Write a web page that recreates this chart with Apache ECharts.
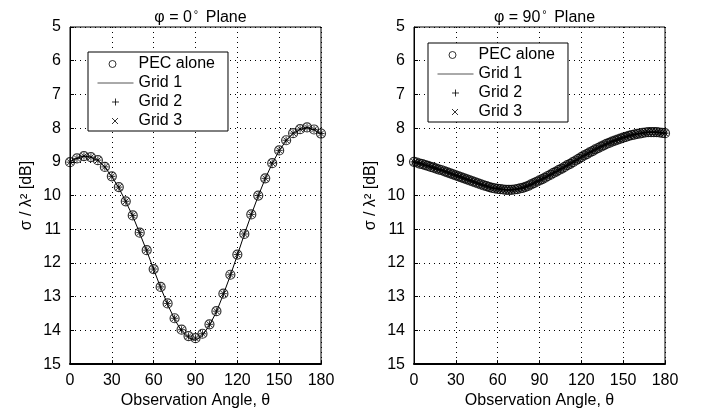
<!DOCTYPE html>
<html>
<head>
<meta charset="utf-8">
<script src="https://cdn.jsdelivr.net/npm/echarts@6/dist/echarts.min.js"></script>
<style>
html, body { margin: 0; padding: 0; background: #fff; }
#chartDiv { width: 702px; height: 414px; }
</style>
</head>
<body>
<div id="chartDiv"></div>
<script>
var FONT = 'Arial, "Liberation Sans", sans-serif';

// phi = 0 plane, every 5 degrees
var anglesPhi0 = [0,5,10,15,20,25,30,35,40,45,50,55,60,65,70,75,80,85,90,95,100,105,110,115,120,125,130,135,140,145,150,155,160,165,170,175,180];
var pecPhi0   = [9.01,8.90,8.83,8.86,8.95,9.15,9.43,9.75,10.17,10.59,11.10,11.62,12.18,12.71,13.20,13.64,13.98,14.17,14.23,14.10,13.82,13.43,12.91,12.35,11.75,11.14,10.56,10.00,9.49,9.04,8.66,8.36,8.15,8.03,7.98,8.04,8.16];
var grid1Phi0 = [9.00,8.89,8.83,8.86,8.96,9.16,9.44,9.77,10.18,10.61,11.12,11.64,12.19,12.73,13.23,13.67,14.02,14.22,14.30,14.15,13.85,13.45,12.93,12.37,11.77,11.15,10.57,10.01,9.50,9.05,8.67,8.37,8.16,8.04,7.99,8.05,8.17];
var grid2Phi0 = [9.01,8.90,8.83,8.86,8.95,9.15,9.43,9.75,10.17,10.59,11.10,11.62,12.18,12.71,13.20,13.64,13.98,14.17,14.23,14.10,13.82,13.43,12.91,12.35,11.75,11.14,10.56,10.00,9.49,9.04,8.66,8.36,8.15,8.03,7.98,8.04,8.16];
var grid3Phi0 = [9.01,8.90,8.83,8.86,8.95,9.15,9.43,9.75,10.17,10.59,11.10,11.62,12.18,12.71,13.20,13.64,13.98,14.17,14.23,14.10,13.82,13.43,12.91,12.35,11.75,11.14,10.56,10.00,9.49,9.04,8.66,8.36,8.15,8.03,7.98,8.04,8.16];

// phi = 90 plane, every 2 degrees
var anglesPhi90 = [0,2,4,6,8,10,12,14,16,18,20,22,24,26,28,30,32,34,36,38,40,42,44,46,48,50,52,54,56,58,60,62,64,66,68,70,72,74,76,78,80,82,84,86,88,90,92,94,96,98,100,102,104,106,108,110,112,114,116,118,120,122,124,126,128,130,132,134,136,138,140,142,144,146,148,150,152,154,156,158,160,162,164,166,168,170,172,174,176,178,180];
var pecPhi90 = [9.00,9.02,9.05,9.07,9.10,9.12,9.15,9.17,9.20,9.23,9.25,9.28,9.31,9.34,9.37,9.40,9.43,9.46,9.49,9.52,9.55,9.58,9.61,9.64,9.67,9.70,9.72,9.75,9.77,9.79,9.80,9.81,9.82,9.83,9.83,9.83,9.82,9.81,9.79,9.77,9.74,9.71,9.67,9.63,9.59,9.55,9.51,9.47,9.42,9.38,9.33,9.29,9.24,9.20,9.15,9.10,9.06,9.01,8.96,8.91,8.86,8.81,8.77,8.72,8.68,8.63,8.59,8.55,8.51,8.47,8.44,8.40,8.37,8.34,8.31,8.28,8.26,8.23,8.21,8.19,8.17,8.16,8.14,8.13,8.12,8.12,8.12,8.12,8.13,8.14,8.15];
var grid1Phi90 = pecPhi90;
var grid2Phi90 = pecPhi90;
var grid3Phi90 = pecPhi90;

var seriesNames = ['PEC alone', 'Grid 1', 'Grid 2', 'Grid 3'];
var titles = ['\u03c6 = 0{deg|\u00b0} Plane', '\u03c6 = 90{deg|\u00b0} Plane'];
var xTicks = [0, 30, 60, 90, 120, 150, 180];

function pairs(xs, ys) {
	var out = [];
	for (var i = 0; i < xs.length; i++) out.push([xs[i], ys[i]]);
	return out;
}

var plusSym  = 'path://M0,-3.5L0,3.5M-3.5,0L3.5,0';
var crossSym = 'path://M-3,-3L3,3M-3,3L3,-3';
// legend icons padded to 36x10 so that every row lines up
var circleIcon = 'path://M-18,-5M18,5M0.5,0A3.5,3.5,0,1,1,-6.5,0A3.5,3.5,0,1,1,0.5,0';
var plusIcon   = 'path://M-18,-5M18,5M0,-3.5L0,3.5M-3.5,0L3.5,0';
var crossIcon  = 'path://M-18,-5M18,5M-3.5,-3L2.5,3M-3.5,3L2.5,-3';

var grids = [
	{left: 70, top: 27, width: 251, height: 348},
	{left: 414, top: 27, width: 251, height: 348}
];
var legendPos = [{left: 88, top: 52}, {left: 428, top: 43}];
var panelData = [
	{x: anglesPhi0, ys: [pecPhi0, grid1Phi0, grid2Phi0, grid3Phi0]},
	{x: anglesPhi90, ys: [pecPhi90, grid1Phi90, grid2Phi90, grid3Phi90]}
];

var option = {
	backgroundColor: '#fff',
	animation: false,
	textStyle: {fontFamily: FONT, color: '#000'},
	title: [],
	grid: [],
	xAxis: [],
	yAxis: [],
	legend: [],
	series: []
};

for (var p = 0; p < 2; p++) {
	var g = grids[p];
	option.grid.push({
		left: g.left, top: g.top, width: g.width, height: g.height,
		show: true, borderColor: '#000', borderWidth: 1, backgroundColor: '#fff'
	});
	option.title.push({
		text: titles[p],
		left: g.left + g.width / 2,
		textAlign: 'center',
		top: 4,
		textStyle: {fontFamily: FONT, fontSize: 16, fontWeight: 'normal', color: '#000',
			rich: {deg: {fontFamily: FONT, fontSize: 11, verticalAlign: 'top', padding: [0, 3, 6, 2]}}}
	});
	option.xAxis.push({
		type: 'value', gridIndex: p, min: 0, max: 180, interval: 30,
		name: 'Observation Angle, \u03b8', nameLocation: 'middle', nameGap: 25,
		nameTextStyle: {fontFamily: FONT, fontSize: 16, color: '#000'},
		axisLine: {show: true, onZero: false, lineStyle: {color: '#000', width: 2}},
		axisTick: {show: true, inside: true, length: 4, lineStyle: {color: '#000'}},
		axisLabel: {fontFamily: FONT, fontSize: 16, color: '#000', margin: 8,
			formatter: function (v) { return xTicks.indexOf(v) >= 0 ? String(v) : ''; }},
		splitLine: {show: true, lineStyle: {color: '#000', width: 1, type: [1, 4]}}
	});
	option.yAxis.push({
		type: 'value', gridIndex: p, min: 5, max: 15, interval: 1, inverse: true,
		name: '\u03c3 / \u03bb\u00b2 [dB]', nameLocation: 'middle', nameGap: 35,
		nameTextStyle: {fontFamily: FONT, fontSize: 16, color: '#000'},
		axisLine: {show: true, onZero: false, lineStyle: {color: '#000', width: 1}},
		axisTick: {show: true, inside: true, length: 4, lineStyle: {color: '#000'}},
		axisLabel: {fontFamily: FONT, fontSize: 16, color: '#000', margin: 9},
		splitLine: {show: true, lineStyle: {color: '#000', width: 1, type: [1, 4]}}
	});
	option.legend.push({
		left: legendPos[p].left, top: legendPos[p].top,
		orient: 'vertical',
		backgroundColor: '#fff', borderColor: '#000', borderWidth: 1,
		padding: [4, 13, 2, 7],
		itemGap: 3,
		itemWidth: 36, itemHeight: 10,
		selectedMode: false,
		textStyle: {fontFamily: FONT, fontSize: 16, color: '#000', lineHeight: 16},
		data: [
			{name: seriesNames[0], icon: circleIcon, itemStyle: {color: 'none', borderColor: '#000', borderWidth: 1}},
			{name: seriesNames[1], itemStyle: {opacity: 0}, lineStyle: {color: '#555', width: 1}},
			{name: seriesNames[2], icon: plusIcon, itemStyle: {color: 'none', borderColor: '#000', borderWidth: 1}},
			{name: seriesNames[3], icon: crossIcon, itemStyle: {color: 'none', borderColor: '#000', borderWidth: 1}}
		]
	});

	var d = panelData[p];
	option.series.push({
		name: seriesNames[0], type: 'scatter', xAxisIndex: p, yAxisIndex: p,
		symbol: 'circle', symbolSize: 9,
		itemStyle: {color: 'transparent', borderColor: '#000', borderWidth: 1.2},
		data: pairs(d.x, d.ys[0])
	});
	option.series.push({
		name: seriesNames[1], type: 'line', xAxisIndex: p, yAxisIndex: p,
		symbol: 'none', showSymbol: false,
		lineStyle: {color: '#000', width: 1},
		itemStyle: {color: '#000'},
		data: pairs(d.x, d.ys[1])
	});
	option.series.push({
		name: seriesNames[2], type: 'scatter', xAxisIndex: p, yAxisIndex: p,
		symbol: plusSym, symbolSize: 7,
		itemStyle: {color: 'none', borderColor: '#000', borderWidth: 1},
		data: pairs(d.x, d.ys[2])
	});
	option.series.push({
		name: seriesNames[3], type: 'scatter', xAxisIndex: p, yAxisIndex: p,
		symbol: crossSym, symbolSize: 6,
		itemStyle: {color: 'none', borderColor: '#000', borderWidth: 1},
		data: pairs(d.x, d.ys[3])
	});
}

var chart = echarts.init(document.getElementById('chartDiv'));
chart.setOption(option);
</script>
</body>
</html>
